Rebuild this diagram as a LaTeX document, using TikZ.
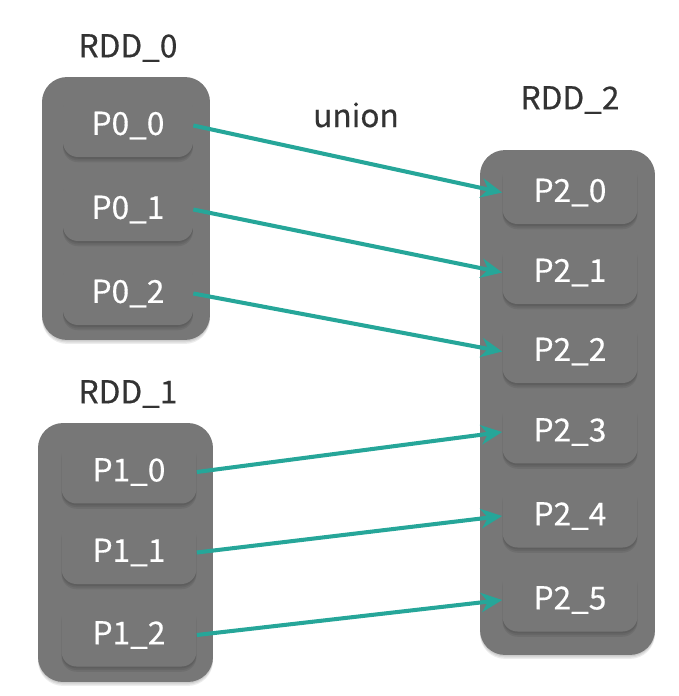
\documentclass[tikz,border=0pt]{standalone}
\usepackage{fontspec}
\setmainfont{Noto Sans CJK SC}
\newfontfamily\medfont{Noto Sans CJK SC}[FakeBold=0.4]
\usetikzlibrary{arrows.meta,shadows}
\newcommand{\PX}{0.02}
\newcommand{\LINEW}{2.3pt}
\definecolor{mygray}{rgb}{0.466,0.466,0.466}
\definecolor{myteal}{rgb}{0.15,0.65,0.6}
\definecolor{mytext}{rgb}{0.2,0.2,0.2}

\begin{document}
\begin{tikzpicture}[x=\PX cm,y=-\PX cm,
	softshadow/.style={drop shadow={fill=black,opacity=0.07,shadow xshift=0pt,shadow yshift=-#1*0.5pt},
		drop shadow={fill=black,opacity=0.07,shadow xshift=0pt,shadow yshift=-#1pt},
		drop shadow={fill=black,opacity=0.07,shadow xshift=0pt,shadow yshift=-#1*1.5pt}},
	rdd/.style={draw=none,fill=mygray,rounded corners=0.5cm,softshadow=1.5},
	part/.style={draw=none,fill=mygray,rounded corners=0.3cm,minimum width=2.7cm,minimum height=1.26cm,text=white,font=\medfont\fontsize{18}{21}\selectfont,softshadow=2},
	title/.style={text=mytext,font=\medfont\fontsize{18}{21}\selectfont},
	link/.style={-{Stealth[length=12pt,width=11pt]},color=myteal,line width=\LINEW}]

		\useasboundingbox (0,0) rectangle (679,696);

		%% outer boxes
		\node[rdd,minimum width=3.36cm,minimum height=5.26cm] (rdd0) at (126,208.5) {};
		\node[rdd,minimum width=3.5cm,minimum height=5.18cm] (rdd1) at (125.5,552.5) {};
		\node[rdd,minimum width=3.5cm,minimum height=10.1cm] (rdd2) at (567.5,402.5) {};

		\node[title] (t0) at (128,48) {RDD\_0};
		\node[title] (t1) at (128,394) {RDD\_1};
		\node[title] (t2) at (570,100) {RDD\_2};
		\node[title] (un) at (356,115) {union};

		%% partitions
		\node[part,minimum width=2.6cm] (p00) at (128,125.5) {P0\_0};
		\node[part,minimum width=2.6cm] (p01) at (128,209.5) {P0\_1};
		\node[part,minimum width=2.6cm] (p02) at (128,293.5) {P0\_2};

		\node[part] (p10) at (129,472) {P1\_0};
		\node[part] (p11) at (129,552.5) {P1\_1};
		\node[part] (p12) at (129,635) {P1\_2};

		\foreach \i/\y in {0/192.5,1/272.5,2/351.5,3/432,4/516,5/600}
			\node[part] (p2\i) at (570,\y) {P2\_\i};

		%% union links
		\draw[link] (p00.east) -- (p20.west);
		\draw[link] (p01.east) -- (p21.west);
		\draw[link] (p02.east) -- (p22.west);
		\draw[link] (p10.east) -- (p23.west);
		\draw[link] (p11.east) -- (p24.west);
		\draw[link] (p12.east) -- (p25.west);

	\end{tikzpicture}
\end{document}
